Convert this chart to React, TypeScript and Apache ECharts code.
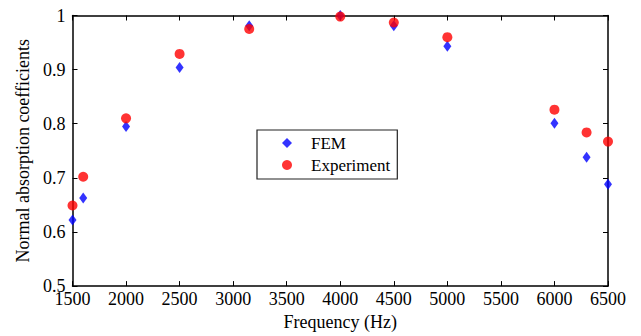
import React, { useEffect, useRef } from "react";
import * as echarts from "echarts";

const frequencies = [1500, 1600, 2000, 2500, 3150, 4000, 4500, 5000, 6000, 6300, 6500];
const femValues = [0.622, 0.663, 0.795, 0.904, 0.981, 1.0, 0.981, 0.943, 0.801, 0.738, 0.688];
const experimentValues = [0.649, 0.702, 0.81, 0.929, 0.975, 0.998, 0.987, 0.96, 0.826, 0.784, 0.767];
const seriesNames = ["FEM", "Experiment"];

const FONT = "Times New Roman, Liberation Serif, serif";

export default function App() {
  const ref = useRef<HTMLDivElement>(null);
  useEffect(() => {
    if (!ref.current) return;
    const chart = echarts.init(ref.current, undefined, { renderer: "svg" });
    const axisLine = { show: true, lineStyle: { color: "#000", width: 1.5 } };
    const tickStyle = { show: true, inside: true, length: 5, lineStyle: { color: "#000", width: 1 } };
    chart.setOption({
      animation: false,
      backgroundColor: "#fff",
      textStyle: { fontFamily: FONT },
      grid: { left: 72.5, right: 33, top: 15.5, bottom: 48, containLabel: false },
      legend: {
        data: seriesNames,
        orient: "vertical",
        left: 257,
        top: 130,
        padding: [3, 7, 4, 25],
        itemGap: 2,
        itemWidth: 10,
        itemHeight: 10,
        borderColor: "#222",
        borderWidth: 1.2,
        backgroundColor: "#fff",
        textStyle: { fontFamily: FONT, fontSize: 17, color: "#000", lineHeight: 20, padding: [0, 0, 0, 14] },
      },
      xAxis: [
        {
          type: "value",
          min: 1500,
          max: 6500,
          interval: 500,
          name: "Frequency (Hz)",
          nameLocation: "middle",
          nameGap: 22,
          nameTextStyle: { fontFamily: FONT, fontSize: 18, color: "#000" },
          axisLine,
          axisTick: tickStyle,
          axisLabel: {
            fontFamily: FONT,
            fontSize: 18,
            color: "#000",
            margin: 6,
            lineHeight: 14,
            formatter: (v: number) => String(v),
          },
          splitLine: { show: false },
        },
        {
          type: "value",
          position: "top",
          min: 1500,
          max: 6500,
          interval: 500,
          axisLine,
          axisTick: tickStyle,
          axisLabel: { show: false },
          splitLine: { show: false },
        },
      ],
      yAxis: [
        {
          type: "value",
          min: 0.5,
          max: 1,
          interval: 0.1,
          name: "Normal absorption coefficients",
          nameLocation: "middle",
          nameGap: 40,
          nameTextStyle: { fontFamily: FONT, fontSize: 18, color: "#000" },
          axisLine,
          axisTick: tickStyle,
          axisLabel: {
            fontFamily: FONT,
            fontSize: 18,
            color: "#000",
            margin: 7,
            lineHeight: 12,
            formatter: (v: number) => String(+v.toFixed(1)),
          },
          splitLine: { show: false },
        },
        {
          type: "value",
          position: "right",
          min: 0.5,
          max: 1,
          interval: 0.1,
          axisLine,
          axisTick: tickStyle,
          axisLabel: { show: false },
          splitLine: { show: false },
        },
      ],
      series: [
        {
          name: seriesNames[0],
          type: "scatter",
          symbol: "diamond",
          symbolSize: [8, 11],
          itemStyle: { color: "#0000ff" },
          data: frequencies.map((f, i) => [f, femValues[i]]),
          z: 2,
        },
        {
          name: seriesNames[1],
          type: "scatter",
          symbol: "circle",
          symbolSize: 10,
          itemStyle: { color: "#ff0000" },
          data: frequencies.map((f, i) => [f, experimentValues[i]]),
          z: 3,
        },
      ],
    });
    return () => chart.dispose();
  }, []);
  return <div ref={ref} style={{ width: 641, height: 336, position: "absolute", left: 0, top: 0 }} />;
}
